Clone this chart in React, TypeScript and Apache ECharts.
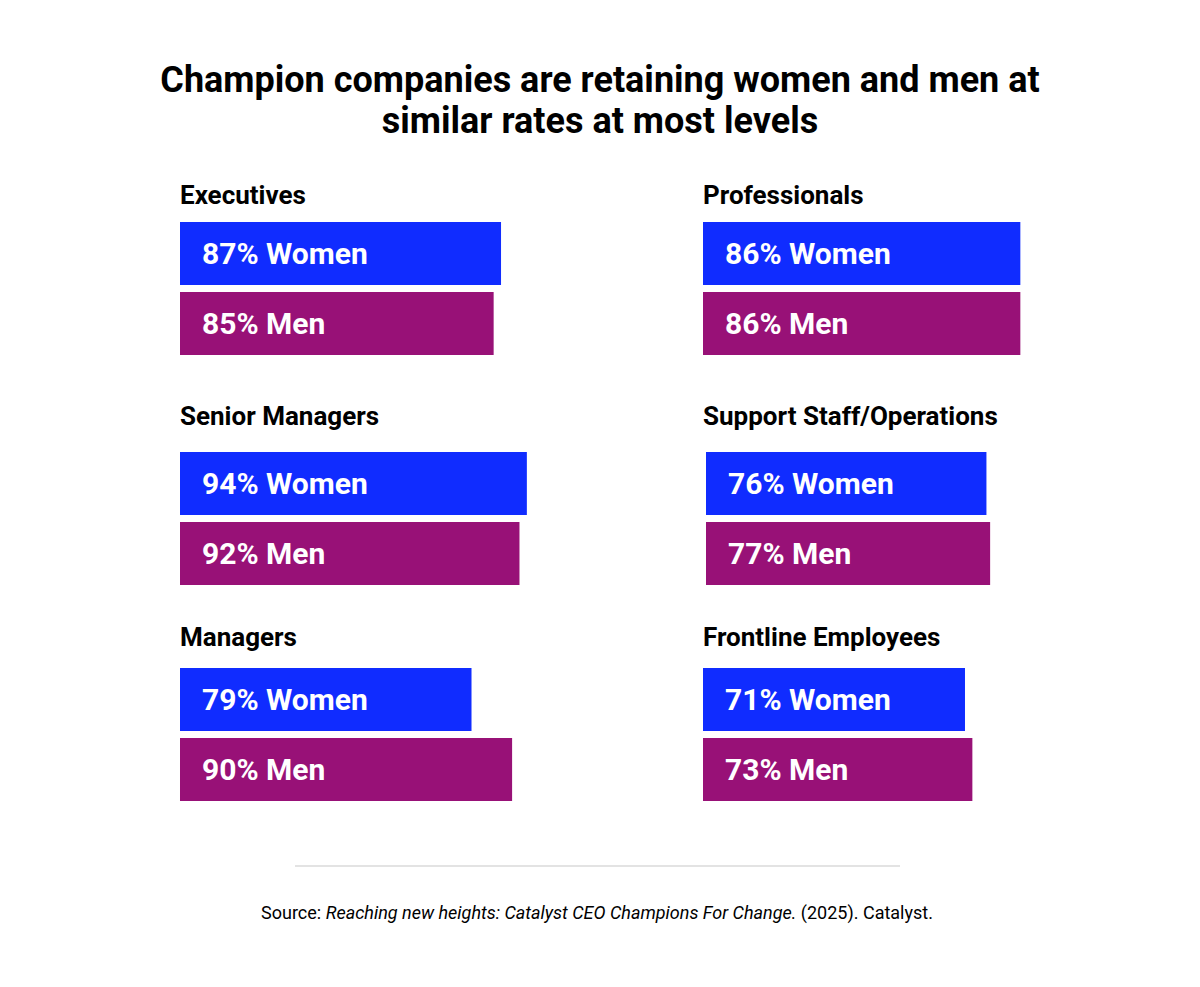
import React, { useEffect, useRef } from "react";
import * as echarts from "echarts";

const groups = ["Executives", "Professionals", "Senior Managers", "Support Staff/Operations", "Managers", "Frontline Employees"];
const genders = ["Women", "Men"];
const womenValues = [87, 86, 94, 76, 79, 71];
const menValues = [85, 86, 92, 77, 90, 73];

const titleLines = ["Champion companies are retaining women and men at", "similar rates at most levels"];
const sourcePrefix = "Source: ";
const sourceItalic = "Reaching new heights: Catalyst CEO Champions For Change.";
const sourceSuffix = " (2025). Catalyst.";

const BLUE = "#102CFF";
const PURPLE = "#981177";
const FONT = "Roboto";

export default function App() {
  const ref = useRef<HTMLDivElement>(null);
  useEffect(() => {
    if (!ref.current) return;
    const chart = echarts.init(ref.current, null, { renderer: "svg" });
    const lefts = [180, 703, 180, 706, 180, 703];
    const barTops = [222, 222, 452, 452, 668, 668];
    const titleY = [195, 195, 416, 416, 637, 637];
    const grids: any[] = [];
    const xAxes: any[] = [];
    const yAxes: any[] = [];
    const series: any[] = [];
    const graphics: any[] = [];
    groups.forEach((g, i) => {
      grids.push({ left: lefts[i], top: barTops[i] - 3.5, width: 369, height: 140, containLabel: false });
      xAxes.push({ type: "value", gridIndex: i, min: 0, max: 100, show: false });
      yAxes.push({ type: "category", gridIndex: i, data: genders, inverse: true, show: false });
      series.push({
        type: "bar",
        xAxisIndex: i,
        yAxisIndex: i,
        barWidth: 63,
        data: [
          { value: womenValues[i], itemStyle: { color: BLUE } },
          { value: menValues[i], itemStyle: { color: PURPLE } },
        ],
        label: {
          show: true,
          position: "insideLeft",
          distance: 22,
          color: "#fff",
          fontFamily: FONT,
          fontWeight: "bold",
          fontSize: 30,
          formatter: (p: any) => `${p.value}% ${genders[p.dataIndex]}`,
        },
      });
      graphics.push({
        type: "text",
        x: lefts[i] === 706 ? 703 : lefts[i],
        y: titleY[i],
        style: { text: g, font: `bold 26px ${FONT}`, fill: "#000", textVerticalAlign: "middle" },
      });
    });
    titleLines.forEach((t, k) => {
      graphics.push({
        type: "text",
        x: 600,
        y: 80 + k * 41,
        style: { text: t, font: `bold 36px ${FONT}`, fill: "#000", textAlign: "center", textVerticalAlign: "middle" },
      });
    });
    graphics.push({ type: "line", shape: { x1: 295, y1: 866, x2: 900, y2: 866 }, style: { stroke: "#e3e3e3", lineWidth: 2 } });
    graphics.push({
      type: "text",
      x: 597,
      y: 912,
      style: {
        text: `{n|${sourcePrefix}}{i|${sourceItalic}}{n|${sourceSuffix}}`,
        textAlign: "center",
        textVerticalAlign: "middle",
        rich: {
          n: { fontFamily: FONT, fontSize: 18, color: "#1a1a1a" },
          i: { fontFamily: FONT, fontSize: 18, fontStyle: "italic", color: "#1a1a1a" },
        },
      },
    });
    chart.setOption({
      animation: false,
      backgroundColor: "#fff",
      grid: grids,
      xAxis: xAxes,
      yAxis: yAxes,
      series,
      graphic: graphics,
    });
    return () => chart.dispose();
  }, []);
  return <div ref={ref} style={{ position: "fixed", left: 0, top: 0, width: 1200, height: 987 }} />;
}
